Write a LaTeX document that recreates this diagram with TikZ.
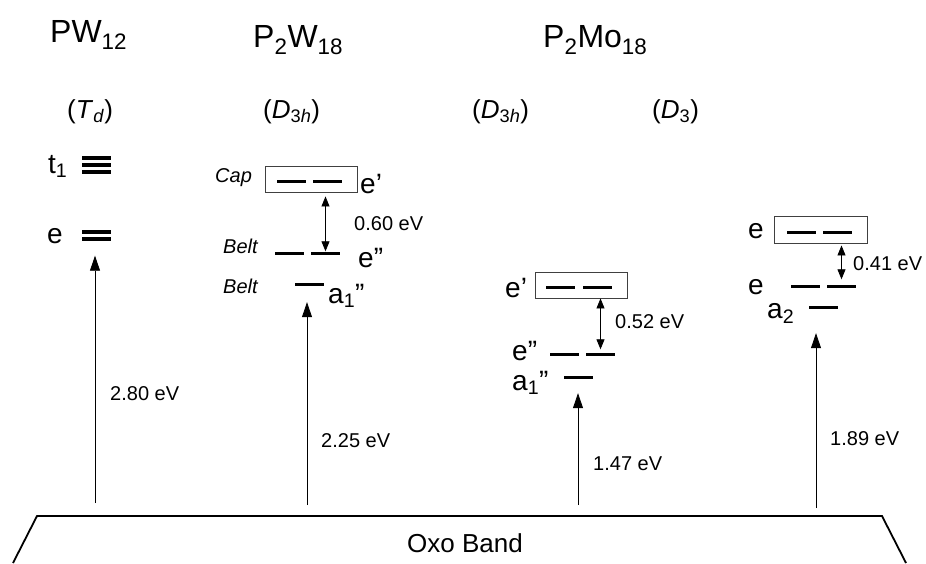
\documentclass[tikz,border=0pt]{standalone}
\usepackage{fontspec}
\setmainfont{Liberation Sans}
\usetikzlibrary{positioning,arrows.meta}
\tikzset{
  ttl/.style={font=\fontsize{32}{36}\selectfont, anchor=base west, inner sep=0pt},
  sym/.style={font=\fontsize{26}{30}\selectfont, anchor=base west, inner sep=0pt},
  lab/.style={font=\fontsize{28}{32}\selectfont, anchor=base west, inner sep=0pt},
  site/.style={font=\fontsize{20}{24}\selectfont\itshape, anchor=base west, inner sep=0pt},
  ev/.style={font=\fontsize{20}{24}\selectfont, anchor=base west, inner sep=0pt},
  lvl/.style={fill=black, inner sep=0pt, minimum width=29pt, minimum height=3pt},
  lvlx/.style={lvl, minimum height=4pt},
  cage/.style={draw=black!75, line width=0.9pt, minimum width=92pt, minimum height=26pt, inner sep=0pt},
  excite/.style={-{Triangle[length=15pt,width=10pt]}, line width=0.8pt},
  split/.style={{Triangle[length=10pt,width=8pt]}-{Triangle[length=10pt,width=8pt]}, line width=0.8pt},
  band/.style={line width=1.8pt, line join=miter},
}
\begin{document}
\begin{tikzpicture}[x=1pt, y=-1pt]
  \useasboundingbox (0,0) rectangle (926,563);
  % headings
  \node[ttl] (tpw) at (50,42) {PW\textsubscript{12}};
  \node[ttl] (tpw18) at (253,47) {P\textsubscript{2}W\textsubscript{18}};
  \node[ttl] (tpmo) at (543,47) {P\textsubscript{2}Mo\textsubscript{18}};
  \node[sym] (gtd) at (67,118) {(\textit{T}\textsubscript{\textit{d}})};
  \node[sym] (gwd) at (263,118) {(\textit{D}\textsubscript{3\textit{h}})};
  \node[sym] (gmd) at (472,118) {(\textit{D}\textsubscript{3\textit{h}})};
  \node[sym] (gmt) at (652,118) {(\textit{D}\textsubscript{3})};

  % PW12
  \foreach \y [count=\i] in {158,165,172}
    \node[lvlx] (pwt\i) at (96.5,\y) {};
  \foreach \y [count=\i] in {231.5,238.5}
    \node[lvlx] (pwe\i) at (96.5,\y) {};
  \node[lab] (lpwt) at (48,173) {t\textsubscript{1}};
  \node[lab] (lpwe) at (47,243) {e};

  % P2W18
  \node[cage] (wcap) at (311,179) {};
  \node[lvl] (wc1) at (291.5,181) {};
  \node[lvl] (wc2) at (327.5,181) {};
  \node[lvl] (wb1) at (289.5,253) {};
  \node[lvl] (wb2) at (325.5,253) {};
  \node[lvl] (wa) at (309.5,284) {};
  \node[site] (lwcap) at (215,182) {Cap};
  \node[lab] (lwc) at (360,193) {e’};
  \node[site] (lwbelt) at (223,253) {Belt};
  \node[lab] (lwb) at (358,267) {e”};
  \node[site] (lwbelt2) at (223,293) {Belt};
  \node[lab] (lwa) at (328,303) {a\textsubscript{1}”};
  \draw[split, shorten <=4pt] (wcap.south -| wb2) -- (wb2.north);
  \node[ev] (gw) at (354,230) {0.60 eV};

  % P2Mo18, D3h
  \node[cage] (mcap) at (581,285) {};
  \node[lvl] (mc1) at (560.5,287) {};
  \node[lvl] (mc2) at (597.5,287) {};
  \node[lvl] (mb1) at (564.5,354) {};
  \node[lvl] (mb2) at (600.5,354) {};
  \node[lvl] (ma) at (578.5,377) {};
  \node[lab] (lmc) at (505,297) {e’};
  \node[lab] (lmb) at (512,360) {e”};
  \node[lab] (lma) at (512,390) {a\textsubscript{1}”};
  \draw[split, shorten >=3pt] (mcap.south -| mb2) -- (mb2.north);
  \node[ev] (gm) at (615,328) {0.52 eV};

  % P2Mo18, D3
  \node[cage, minimum width=93pt, minimum height=27pt] (dcap) at (820.5,229.5) {};
  \node[lvl] (dc1) at (801.5,232) {};
  \node[lvl] (dc2) at (837.5,232) {};
  \node[lvl] (de1) at (805.5,286) {};
  \node[lvl] (de2) at (841.5,286) {};
  \node[lvl] (da) at (823.5,307) {};
  \node[lab] (ldc) at (748,238) {e};
  \node[lab] (lde) at (748,294) {e};
  \node[lab] (lda) at (767,318) {a\textsubscript{2}};
  \draw[split, shorten <=2pt, shorten >=5pt] (dcap.south -| de2) -- (de2.north);
  \node[ev] (gd) at (853,270) {0.41 eV};

  % oxo band and excitations
  \draw[band] (13,563) -- (37,516) -- (882,516) -- (906,563);
  \node[font=\fontsize{26}{30}\selectfont, anchor=base, inner sep=0pt] (oxo) at (465,552) {Oxo Band};
  \coordinate (b1) at (95,503);
  \coordinate (b2) at (307,505);
  \coordinate (b3) at (578,505);
  \coordinate (b4) at (816,508);
  \draw[excite, shorten >=15pt] (b1) -- (b1 |- pwe2.south);
  \draw[excite, shorten >=16.5pt] (b2) -- (b2 |- wa.south);
  \draw[excite, shorten >=14.5pt] (b3) -- (b3 |- ma.south);
  \draw[excite, shorten >=24.5pt] (b4) -- (b4 |- da.south);
  \node[ev] (e1) at (110,400) {2.80 eV};
  \node[ev] (e2) at (321,447) {2.25 eV};
  \node[ev] (e3) at (593,470) {1.47 eV};
  \node[ev] (e4) at (830,445) {1.89 eV};
\end{tikzpicture}
\end{document}
